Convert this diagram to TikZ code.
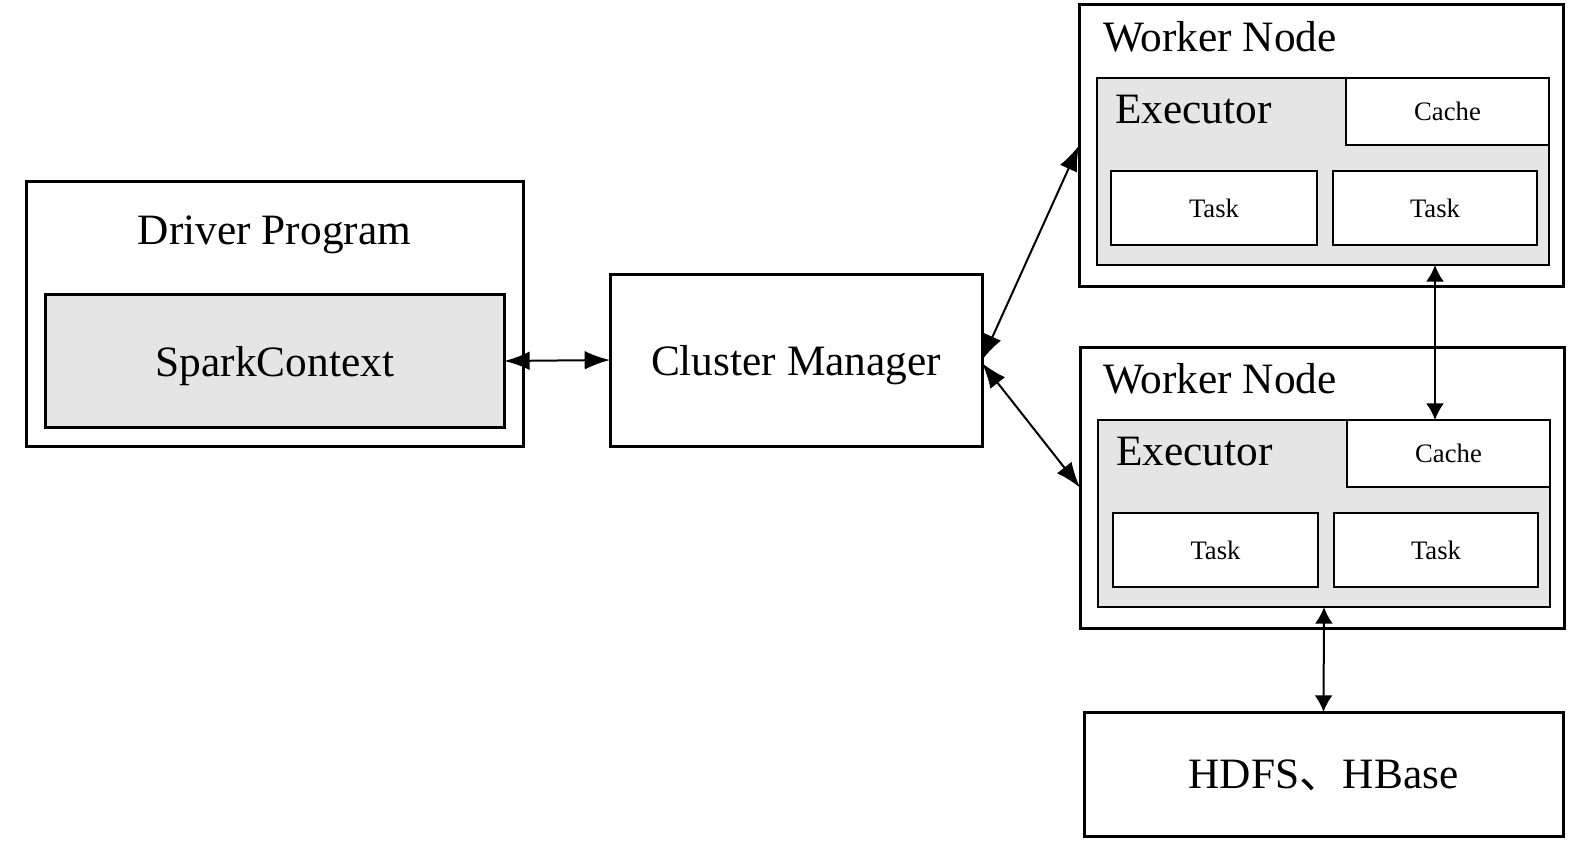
\documentclass[tikz,border=0pt]{standalone}
\usepackage{fontspec}
\setmainfont{Liberation Serif}
\newfontfamily\cjk{Noto Sans CJK SC}
\usetikzlibrary{arrows.meta,calc}
\definecolor{boxgray}{HTML}{E5E5E5}
\tikzset{
  outerbox/.style={draw=black, line width=2.25pt, fill=white, inner sep=0pt, outer sep=0pt},
  innerbox/.style={draw=black, line width=1.6pt, inner sep=0pt, outer sep=0pt},
  graybox/.style={innerbox, fill=boxgray},
  whitebox/.style={innerbox, fill=white},
  bigfont/.style={font=\fontsize{32.5}{38}\selectfont, text depth=0pt},
  bigtext/.style={font=\fontsize{32.5}{38}\selectfont, inner sep=0pt},
  smalltext/.style={font=\fontsize{20}{24}\selectfont, text depth=0pt},
  conn/.style={line width=1.5pt, {Latex[length=19pt,width=14pt]}-{Latex[length=19pt,width=14pt]}},
  vconn/.style={line width=1.5pt, {Latex[length=12.5pt,width=13.5pt]}-{Latex[length=12.5pt,width=13.5pt]}}
}
\begin{document}
\begin{tikzpicture}[x=0.75pt, y=-0.75pt]
\useasboundingbox (0,0) rectangle (1587,842);
% Driver program
\node[outerbox, minimum width={497*0.75pt}, minimum height={265*0.75pt}] (driver) at (274.5,313.5) {};
\node[bigtext, anchor=base] (drivertxt) at (274.5,244) {Driver Program};
\node[graybox, line width=2.25pt, minimum width={458.5*0.75pt}, minimum height={133.5*0.75pt}, bigfont] (spark) at (275,361) {SparkContext};
% Cluster manager
\node[outerbox, minimum width={372*0.75pt}, minimum height={172*0.75pt}, bigfont] (cm) at (796,360) {Cluster Manager};
% Worker 1
\node[outerbox, minimum width={484*0.75pt}, minimum height={281*0.75pt}] (w1) at (1321,145.5) {};
\node[bigtext, anchor=base west] (w1txt) at (1103,51) {Worker Node};
\node[graybox, minimum width={452*0.75pt}, minimum height={187*0.75pt}] (e1) at (1323,171.5) {};
\node[bigtext, anchor=base west] (e1txt) at (1115,123) {Executor};
\node[whitebox, minimum width={203*0.75pt}, minimum height={67*0.75pt}, smalltext] (c1) at (1447.5,111.5) {Cache};
\node[whitebox, minimum width={206*0.75pt}, minimum height={74*0.75pt}, smalltext] (t1a) at (1214,208) {Task};
\node[whitebox, minimum width={204*0.75pt}, minimum height={74*0.75pt}, smalltext] (t1b) at (1435,208) {Task};
% Worker 2
\node[outerbox, minimum width={484*0.75pt}, minimum height={281*0.75pt}] (w2) at (1322,487.5) {};
\node[bigtext, anchor=base west] (w2txt) at (1103,393) {Worker Node};
\node[graybox, minimum width={452*0.75pt}, minimum height={187*0.75pt}] (e2) at (1324,513.5) {};
\node[bigtext, anchor=base west] (e2txt) at (1116,465) {Executor};
\node[whitebox, minimum width={203*0.75pt}, minimum height={67*0.75pt}, smalltext] (c2) at (1448.5,453.5) {Cache};
\node[whitebox, minimum width={205*0.75pt}, minimum height={74*0.75pt}, smalltext] (t2a) at (1215.5,550) {Task};
\node[whitebox, minimum width={204*0.75pt}, minimum height={74*0.75pt}, smalltext] (t2b) at (1436,550) {Task};
% HDFS
\node[outerbox, minimum width={479*0.75pt}, minimum height={124*0.75pt}, bigfont] (hdfs) at (1323.5,774) {HDFS{\cjk 、}HBase};
% connectors
\draw[conn] (spark.east) -- (cm.west);
\draw[conn] (cm.east) -- (w1.west);
\draw[conn] ($(cm.east)+(0,3)$) -- (w2.west);
\draw[vconn] (t1b.center |- e1.south) -- (t1b.center |- e2.north);
\draw[vconn] (e2.south) -- (hdfs.north);
\end{tikzpicture}
\end{document}
